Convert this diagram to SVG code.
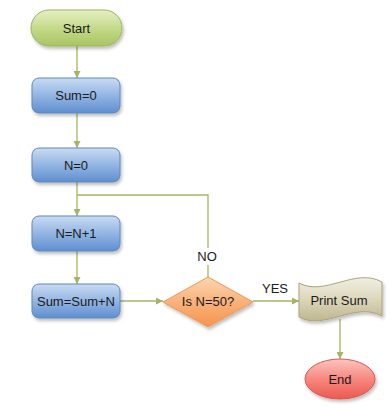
<svg xmlns="http://www.w3.org/2000/svg" width="392" height="409" viewBox="0 0 392 409">
<defs>
<linearGradient id="gGreen" x1="0" y1="0" x2="0" y2="1"><stop offset="0" stop-color="#e6efc4"/><stop offset="0.5" stop-color="#c5da8a"/><stop offset="1" stop-color="#a9c463"/></linearGradient>
<linearGradient id="gBlue" x1="0" y1="0" x2="0" y2="1"><stop offset="0" stop-color="#c9dbf2"/><stop offset="0.5" stop-color="#93b5e3"/><stop offset="1" stop-color="#5f8fcf"/></linearGradient>
<linearGradient id="gOrange" x1="0" y1="0" x2="0" y2="1"><stop offset="0" stop-color="#fdd6b2"/><stop offset="0.5" stop-color="#f9b27a"/><stop offset="1" stop-color="#f3944f"/></linearGradient>
<linearGradient id="gBeige" x1="0" y1="0" x2="0" y2="1"><stop offset="0" stop-color="#f1efe2"/><stop offset="0.5" stop-color="#dcd7bb"/><stop offset="1" stop-color="#bdb690"/></linearGradient>
<linearGradient id="gRed" x1="0" y1="0" x2="0" y2="1"><stop offset="0" stop-color="#fcc5c0"/><stop offset="0.5" stop-color="#f7877f"/><stop offset="1" stop-color="#ec5a50"/></linearGradient>
<filter id="sh" x="-20%" y="-20%" width="150%" height="160%"><feDropShadow dx="1.5" dy="2.5" stdDeviation="1.8" flood-color="#000" flood-opacity="0.25"/></filter>
<marker id="ar" viewBox="0 0 10 10" refX="10" refY="5" markerWidth="7" markerHeight="7" orient="auto" markerUnits="userSpaceOnUse"><path d="M0,0 L10,5 L0,10 Z" fill="#a7b466"/></marker>
</defs>
<style>
.lbl{font-family:"Liberation Sans",Arial,sans-serif;font-size:13px;fill:#1a1a1a;text-anchor:middle;dominant-baseline:central}
.c{fill:none;stroke:#a7b466;stroke-width:1.3}
.blue{fill:url(#gBlue);stroke:#5f87bf;stroke-width:1;filter:url(#sh)}
</style>
<g id="connectors">
<path class="c" d="M77,46 V78" marker-end="url(#ar)"/>
<path class="c" d="M77,113 V148" marker-end="url(#ar)"/>
<path class="c" d="M77,182 V216" marker-end="url(#ar)"/>
<path class="c" d="M77,251 V284" marker-end="url(#ar)"/>
<path class="c" d="M120,301 H163" marker-end="url(#ar)"/>
<path class="c" d="M208,277 V265"/>
<path class="c" d="M208,248 V195 H77"/>
<path class="c" d="M253,301 H299" marker-end="url(#ar)"/>
<path class="c" d="M340,319 V359" marker-end="url(#ar)"/>
<text class="lbl" x="207" y="256">NO</text>
<text class="lbl" x="275" y="288">YES</text>
</g>
<g id="start">
<rect x="31" y="10" width="91" height="36" rx="18" fill="url(#gGreen)" stroke="#9ab65a" filter="url(#sh)"/>
<text class="lbl" x="76.5" y="28">Start</text>
</g>
<g id="sum0">
<rect class="blue" x="32" y="78" width="88" height="35" rx="7"/>
<text class="lbl" x="76" y="95.5">Sum=0</text>
</g>
<g id="n0">
<rect class="blue" x="32" y="148" width="88" height="34" rx="7"/>
<text class="lbl" x="76" y="165">N=0</text>
</g>
<g id="ninc">
<rect class="blue" x="32" y="216" width="88" height="35" rx="7"/>
<text class="lbl" x="76" y="233.5">N=N+1</text>
</g>
<g id="sumadd">
<rect class="blue" x="32" y="284" width="88" height="34" rx="7"/>
<text class="lbl" x="76" y="301">Sum=Sum+N</text>
</g>
<g id="decision">
<path d="M163,302 L208,277 L253,302 L208,327 Z" fill="url(#gOrange)" stroke="#f0955a" filter="url(#sh)"/>
<text class="lbl" x="208" y="301">Is N=50?</text>
</g>
<g id="print">
<path d="M299,283 C325,297 355,267 382,282 L382,316 C355,301 325,331 299,317 Z" fill="url(#gBeige)" stroke="#aaa37e" filter="url(#sh)"/>
<text class="lbl" x="339" y="300">Print Sum</text>
</g>
<g id="end">
<ellipse cx="340" cy="379" rx="35" ry="20" fill="url(#gRed)" stroke="#d9584e" filter="url(#sh)"/>
<text class="lbl" x="340" y="379">End</text>
</g>
</svg>
